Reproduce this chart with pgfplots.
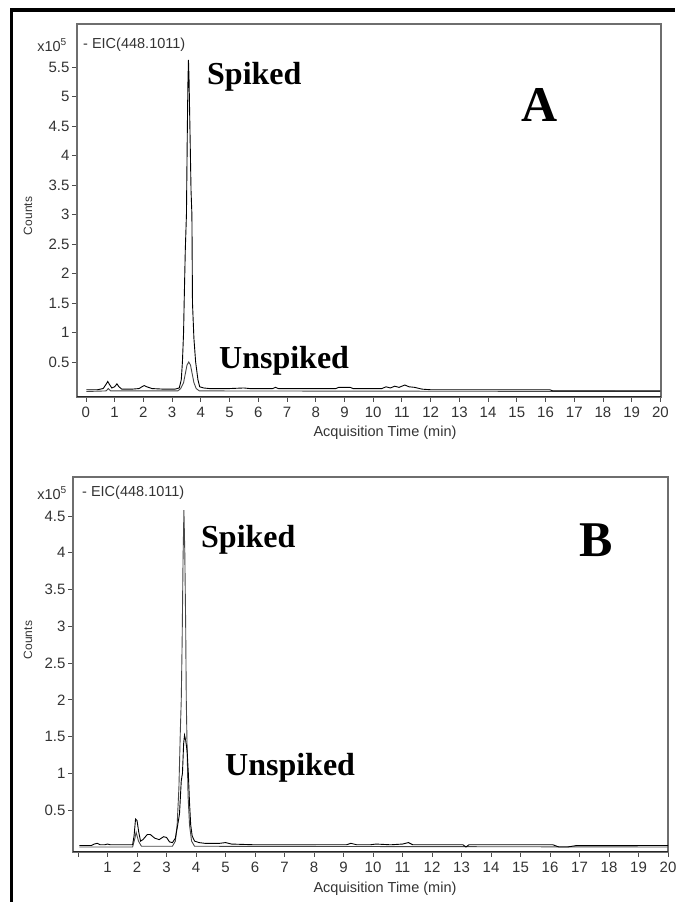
\documentclass[border=0pt]{standalone}
\usepackage{fontspec}
\setmainfont{Liberation Sans}
\newfontfamily\timesfont{Liberation Serif}
\usepackage{pgfplots}
\pgfplotsset{compat=1.18}
\definecolor{frame}{HTML}{6E6E6E}
\definecolor{ticktext}{HTML}{333333}
\pgfplotsset{
  eic/.style={
    scale only axis,
    anchor=south west,
    axis line style={draw=frame,line width=1.3pt},
    xtick pos=left,
    ytick pos=left,
    tick align=outside,
    major tick length=5pt,
    tick style={draw=black!70,line width=0.8pt},
    xtick={0,...,20},
    tick label style={font=\fontsize{15}{17}\selectfont,text=ticktext},
    xticklabel style={text height=11pt,text depth=0pt,yshift=-1pt},
    yticklabel style={xshift=1pt},
  },
  spiked/.style={draw=black,line width=0.9pt},
  unspiked/.style={draw=black!72,line width=0.9pt},
}

\begin{document}
\begin{tikzpicture}[x=1pt,y=1pt]
\path[use as bounding box] (0,0) rectangle (675,902);
\draw[line width=3.5pt] (11.5,0) -- (11.5,892) -- (675,892);

% ---------- panel A ----------
\begin{axis}[eic,
  at={(77pt,505pt)}, width=584pt, height=373pt,
  xmin=-0.31, xmax=20.02, ymin=-0.093, ymax=6.23,
  xticklabels={0,1,2,3,4,5,6,7,8,9,10,11,12,13,14,15,16,17,18,19,20},
  ytick={0.5,1,1.5,2,2.5,3,3.5,4,4.5,5,5.5},
  yticklabels={0.5,1,1.5,2,2.5,3,3.5,4,4.5,5,5.5},
]
\addplot[unspiked] coordinates {
(0.02,0.0) (0.7,0.01) (0.78,0.05) (0.86,0.01) (2.0,0.01) (3.2,0.01) (3.3,0.05)
(3.4,0.15) (3.46,0.3) (3.52,0.45) (3.58,0.5) (3.64,0.45) (3.70,0.3) (3.76,0.15)
(3.84,0.05) (3.95,0.01) (20,0.0)};
\addplot[spiked] coordinates {
(0.02,0.03) (0.4,0.03) (0.6,0.05) (0.7,0.12) (0.76,0.17) (0.82,0.12) (0.9,0.06)
(1.0,0.08) (1.08,0.13) (1.15,0.08) (1.25,0.04) (1.6,0.04) (1.85,0.05) (1.95,0.08)
(2.03,0.10) (2.12,0.08) (2.3,0.05) (2.7,0.04) (3.1,0.04) (3.25,0.06) (3.32,0.2)
(3.36,0.5) (3.40,1.0) (3.42,1.5) (3.46,2.4) (3.50,3.0) (3.53,4.4) (3.55,5.2)
(3.57,5.62) (3.59,5.3) (3.62,4.5) (3.66,3.4) (3.69,3.0) (3.71,1.5) (3.76,0.9)
(3.82,0.5) (3.9,0.2) (3.96,0.08) (4.1,0.06) (4.3,0.05) (5.0,0.05) (5.5,0.06)
(5.7,0.05) (6.5,0.05) (6.6,0.07) (6.7,0.05) (8.7,0.05) (8.8,0.07) (9.2,0.07)
(9.3,0.05) (10.3,0.05) (10.45,0.08) (10.6,0.06) (10.75,0.09) (10.9,0.07)
(11.1,0.11) (11.25,0.08) (11.45,0.07) (11.7,0.04) (12.0,0.03) (14,0.03)
(16.15,0.03) (16.25,0.01) (20,0.01)};
\draw[line width=2.4pt,black!85] (rel axis cs:0,0) -- (rel axis cs:1,0);
\end{axis}

% ---------- panel B ----------
\begin{axis}[eic,
  at={(73pt,50pt)}, width=595pt, height=375pt,
  xmin=-0.17, xmax=20.0, ymin=-0.068, ymax=5.03,
  xticklabels={,1,2,3,4,5,6,7,8,9,10,11,12,13,14,15,16,17,18,19,20},
  ytick={0.5,1,1.5,2,2.5,3,3.5,4,4.5},
  yticklabels={0.5,1,1.5,2,2.5,3,3.5,4,4.5},
]
\addplot[unspiked] coordinates {
(0.05,0.0) (1.85,0.0) (1.93,0.12) (1.97,0.2) (2.05,0.08) (2.15,0.01) (3.2,0.01)
(3.3,0.08) (3.36,0.3) (3.42,0.8) (3.47,1.6) (3.5,2.0) (3.53,2.8) (3.56,3.9)
(3.59,4.58) (3.62,4.0) (3.65,3.0) (3.67,2.0) (3.7,1.3) (3.73,0.7) (3.78,0.3)
(3.85,0.08) (3.95,0.01) (20,0.0)};
\addplot[spiked] coordinates {
(0.05,0.02) (0.45,0.02) (0.55,0.04) (0.65,0.05) (0.75,0.03) (0.9,0.03) (1.0,0.04)
(1.1,0.03) (1.4,0.03) (1.85,0.03) (1.9,0.15) (1.95,0.38) (2.0,0.36) (2.06,0.2)
(2.12,0.08) (2.2,0.10) (2.35,0.17) (2.45,0.17) (2.6,0.12) (2.75,0.10) (2.9,0.14)
(3.0,0.13) (3.1,0.07) (3.2,0.06) (3.3,0.12) (3.38,0.3) (3.44,0.45) (3.5,0.9)
(3.54,1.0) (3.58,1.4) (3.61,1.52) (3.65,1.45) (3.7,1.3) (3.74,1.0) (3.78,0.6)
(3.82,0.3) (3.87,0.15) (3.95,0.08) (4.1,0.06) (4.3,0.05) (4.8,0.05) (5.0,0.06)
(5.2,0.04) (6,0.03) (7,0.03) (8.5,0.03) (9.1,0.03) (9.25,0.05) (9.45,0.03)
(9.9,0.03) (10.1,0.04) (10.6,0.03) (11.0,0.04) (11.2,0.06) (11.35,0.03)
(13.05,0.03) (13.15,0.0) (13.25,0.03) (16.1,0.03) (16.3,0.0) (16.6,0.0)
(16.9,0.02) (20,0.02)};
\draw[line width=2.4pt,black!85] (rel axis cs:0,0) -- (rel axis cs:1,0);
\end{axis}

% ---------- texts ----------
\begin{scope}[every node/.style={font=\fontsize{14.5}{16}\selectfont,text=ticktext,inner sep=0pt}]
\node[anchor=east] at (67,857) {x10\textsuperscript{5}};
\node[anchor=west] at (83,857) {- EIC(448.1011)};
\node[rotate=90,font=\fontsize{12}{14}\selectfont] at (28,686) {Counts};
\node at (385,469) {Acquisition Time (min)};
\node[anchor=east] at (67,409) {x10\textsuperscript{5}};
\node[anchor=west] at (82,409) {- EIC(448.1011)};
\node[rotate=90,font=\fontsize{12}{14}\selectfont] at (28,262) {Counts};
\node at (385,13) {Acquisition Time (min)};
\end{scope}
\begin{scope}[every node/.style={font=\timesfont\bfseries\fontsize{32}{36}\selectfont,inner sep=0pt}]
\node[anchor=west] at (207,825) {Spiked};
\node[anchor=west] at (219,541) {Unspiked};
\node[anchor=west] at (201,362) {Spiked};
\node[anchor=west] at (225,134) {Unspiked};
\node[font=\timesfont\bfseries\fontsize{50}{54}\selectfont] at (540,797) {A};
\node[font=\timesfont\bfseries\fontsize{50}{54}\selectfont] at (596,362) {B};
\end{scope}
\end{tikzpicture}
\end{document}
